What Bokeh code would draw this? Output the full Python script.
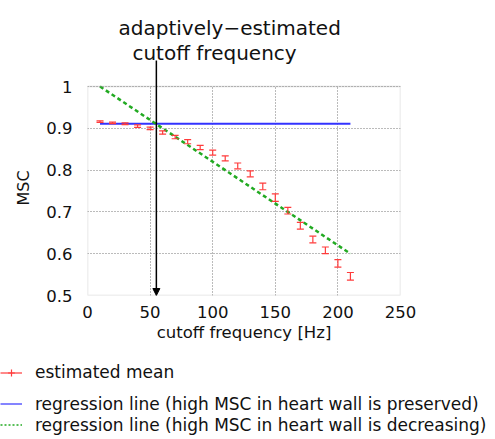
import math
from bokeh.plotting import figure
from bokeh.layouts import column
from bokeh.models import (Range1d, FixedTicker, Arrow, NormalHead, Label, Legend,
                          LegendItem, ColumnDataSource, BoxAnnotation, Title)
from bokeh.embed import file_html
from bokeh.resources import INLINE

# ---- data ----
freq = [10, 20, 30, 40, 50, 60, 70, 80, 90, 100, 110, 120, 130, 140, 150, 160, 170, 180, 190, 200, 210]
msc_mean = [0.916, 0.913, 0.911, 0.905, 0.900, 0.890, 0.879, 0.868, 0.854, 0.842, 0.828,
            0.810, 0.791, 0.761, 0.734, 0.703, 0.667, 0.634, 0.608, 0.577, 0.546]
msc_err = [0.002, 0.002, 0.002, 0.003, 0.003, 0.004, 0.004, 0.005, 0.005, 0.006, 0.006,
           0.007, 0.007, 0.008, 0.009, 0.008, 0.008, 0.008, 0.008, 0.009, 0.009]
reg_x = [10, 210]
reg_preserved = [0.911, 0.911]
reg_decreasing = [1.0, 0.6]
cutoff = 55
x_ticks = [0, 50, 100, 150, 200, 250]
y_ticks = [0.5, 0.6, 0.7, 0.8, 0.9, 1.0]
y_tick_labels = ["0.5", "0.6", "0.7", "0.8", "0.9", "1"]
annotation_lines = ["adaptively\u2212estimated", "cutoff frequency"]
legend_labels = ["estimated mean",
                 "regression line (high MSC in heart wall is preserved)",
                 "regression line (high MSC in heart wall is decreasing)"]

FONT = "DejaVu Sans"
RED = "#ff3b3b"
BLUE = "#3333ff"
GREEN = "#22aa22"
TXT = "#111111"
NAN = float("nan")

src = ColumnDataSource(dict(
    x=freq, y=msc_mean,
    lo=[m - e for m, e in zip(msc_mean, msc_err)],
    hi=[m + e for m, e in zip(msc_mean, msc_err)],
))

# ---------------- main chart ----------------
# frame extends above y=1 so the annotation text and arrow fit inside it
Y_TOP = 0.5 + 295 / 418.0
p = figure(frame_width=313, frame_height=295,
           min_border_left=87, min_border_right=95, min_border_top=0, min_border_bottom=50,
           x_range=Range1d(0, 250), y_range=Range1d(0.5, Y_TOP),
           output_backend="svg", toolbar_location=None)
p.frame_align = False

p.outline_line_color = None
p.background_fill_color = "white"
p.border_fill_color = "white"

p.xaxis.ticker = FixedTicker(ticks=x_ticks)
p.yaxis.ticker = FixedTicker(ticks=y_ticks)
p.yaxis.bounds = (y_ticks[0], y_ticks[-1])
p.yaxis.major_label_overrides = {t: l for t, l in zip(y_ticks, y_tick_labels)}

for ax in (p.xaxis[0], p.yaxis[0]):
    ax.axis_line_color = None
    ax.major_tick_line_color = None
    ax.minor_tick_line_color = None
    ax.major_label_text_font = FONT
    ax.major_label_text_font_size = "16.5px"
    ax.major_label_text_color = TXT
    ax.axis_label_text_font = FONT
    ax.axis_label_text_font_size = "16.5px"
    ax.axis_label_text_font_style = "normal"
    ax.axis_label_text_color = TXT

p.xaxis.major_label_standoff = 4
p.yaxis.major_label_standoff = 9
p.xaxis.axis_label = "cutoff frequency [Hz]"
p.xaxis.axis_label_standoff = 2

# y-axis title, placed so that it is centred on the 0.5..1 box
p.add_layout(Title(text="MSC", align="left", offset=90, vertical_align="middle",
                   standoff=20, text_font=FONT, text_font_size="16px",
                   text_font_style="normal", text_color=TXT), "left")

p.grid.grid_line_color = "#555555"
p.grid.grid_line_dash = "1 2"
p.grid.grid_line_alpha = 0.8
p.xgrid.cross_bounds = (y_ticks[0], y_ticks[-1])

# plot box (y from 0.5 to 1)
p.add_layout(BoxAnnotation(left=x_ticks[0], right=x_ticks[-1], bottom=y_ticks[0], top=y_ticks[-1],
                           fill_alpha=0, line_color="#999999", line_width=1.5))

# regression lines
p.line(reg_x, reg_preserved, line_color=BLUE, line_width=2)
p.line(reg_x, reg_decreasing, line_color=GREEN, line_width=2.5, line_dash="4 3")

# error bars
p.segment(x0="x", y0="lo", x1="x", y1="hi", source=src, line_color=RED, line_width=1.2)
p.scatter(x="x", y="lo", source=src, marker="dash", size=7, line_color=RED, line_width=1.2)
p.scatter(x="x", y="hi", source=src, marker="dash", size=7, line_color=RED, line_width=1.2)

# arrow marking the cutoff frequency
p.add_layout(Arrow(x_start=cutoff, y_start=1.062, x_end=cutoff, y_end=y_ticks[0],
                   line_color="black", line_width=1.5,
                   end=NormalHead(size=7, fill_color="black", line_color="black")))

p.add_layout(Label(x=24.8, y=1.139, text=annotation_lines[0], text_font=FONT,
                   text_font_size="20px", text_color=TXT, text_align="left",
                   text_baseline="alphabetic"))
p.add_layout(Label(x=35.9, y=1.079, text=annotation_lines[1], text_font=FONT,
                   text_font_size="20px", text_color=TXT, text_align="left",
                   text_baseline="alphabetic"))

# ---------------- legend strip under the chart ----------------
LEG_H = 94
q = figure(width=495, height=LEG_H, x_range=Range1d(0, 495), y_range=Range1d(0, LEG_H),
           x_axis_type=None, y_axis_type=None, min_border=0,
           output_backend="svg", toolbar_location=None)
q.frame_align = False
q.outline_line_color = None
q.grid.visible = False

# legend keys (a single NaN point each: they only draw the legend symbols)
k_bar = q.segment(x0=[NAN], y0=[NAN], x1=[NAN], y1=[NAN], line_color=RED, line_width=1.2)
k_tick = q.scatter(x=[NAN], y=[NAN], marker="cross", size=7,
                   line_color=RED, line_width=1.2)
k_blue = q.line(x=[NAN], y=[NAN], line_color=BLUE, line_width=1.2)
k_green = q.line(x=[NAN], y=[NAN], line_color=GREEN, line_width=1.5, line_dash="2 2")

rows = [([k_bar, k_tick], 57.0), ([k_blue], 25.5), ([k_green], 4.5)]
for (rends, vy), lab in zip(rows, legend_labels):
    leg = Legend(items=[LegendItem(label=lab, renderers=rends)], location=(0, vy),
                 padding=0, margin=0, spacing=0, glyph_width=22, glyph_height=17,
                 label_height=17, label_standoff=13, label_text_font=FONT,
                 label_text_font_size="17px", label_text_color=TXT,
                 border_line_alpha=0, background_fill_alpha=0)
    q.add_layout(leg)

layout = column(p, q, spacing=0)
open("out.html", "w").write(file_html(layout, INLINE))
